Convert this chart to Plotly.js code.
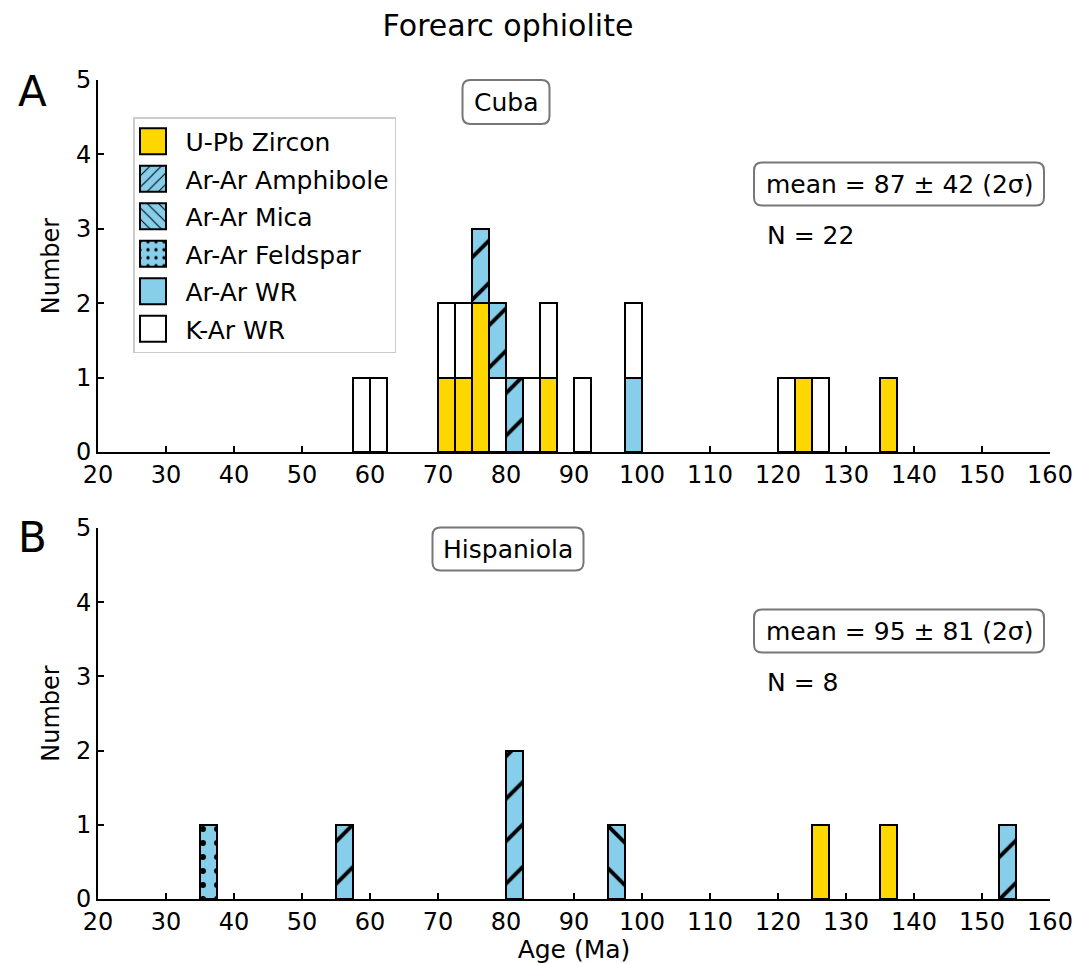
<!DOCTYPE html>
<html>
<head>
<meta charset="utf-8">
<script src="https://cdn.plot.ly/plotly-3.0.1.min.js"></script>
<style>html,body{margin:0;padding:0;background:#fff;}#chart{width:1088px;height:964px;}</style>
</head>
<body>
<div id="chart"></div>
<script>
// ---- data (bin left edges in Ma, counts per bin) ----
var binWidth = 2.5;
var xTicks = [20, 30, 40, 50, 60, 70, 80, 90, 100, 110, 120, 130, 140, 150, 160];
var yTicks = [0, 1, 2, 3, 4, 5];

// Panel A: Cuba
var cubaUPbEdges = [70, 72.5, 75, 85, 122.5, 135];
var cubaUPbCounts = [1, 1, 2, 1, 1, 1];
var cubaArWREdges = [97.5];
var cubaArWRCounts = [1];
var cubaKArEdges = [57.5, 60, 70, 72.5, 77.5, 82.5, 85, 90, 97.5, 120, 125];
var cubaKArCounts = [1, 1, 1, 1, 1, 1, 1, 1, 1, 1, 1];
var cubaAmphEdges = [75, 77.5, 80];
var cubaAmphCounts = [1, 1, 1];

// Panel B: Hispaniola
var hispUPbEdges = [125, 135];
var hispUPbCounts = [1, 1];
var hispAmphEdges = [55, 80, 152.5];
var hispAmphCounts = [1, 2, 1];
var hispMicaEdges = [95];
var hispMicaCounts = [1];
var hispFeldEdges = [35];
var hispFeldCounts = [1];

var cubaStats = {mean: 87, sd2: 42, n: 22};
var hispStats = {mean: 95, sd2: 81, n: 8};

// ---- styling ----
var FONT = 'DejaVu Sans, Liberation Sans, sans-serif';
var GOLD = '#FFD700', SKY = '#87CEEB';
var series = {
  'U-Pb Zircon':    {color: GOLD, pattern: null, rank: 1},
  'Ar-Ar Amphibole':{color: SKY, pattern: '/', rank: 2},
  'Ar-Ar Mica':     {color: SKY, pattern: '\\', rank: 3},
  'Ar-Ar Feldspar': {color: SKY, pattern: '.', rank: 4},
  'Ar-Ar WR':       {color: SKY, pattern: null, rank: 5},
  'K-Ar WR':        {color: '#FFFFFF', pattern: null, rank: 6}
};

function centers(edges) { return edges.map(function (e) { return e + binWidth / 2; }); }

function barTrace(name, edges, counts, xa, ya, showlegend) {
  var s = series[name];
  var marker = {color: s.color, line: {color: 'black', width: 2}};
  if (s.pattern) {
    var isDot = s.pattern === '.';
    marker.pattern = {
      shape: s.pattern, fgcolor: 'black', bgcolor: s.color, fillmode: 'replace',
      size: isDot ? 14 : 30, solidity: isDot ? 0.14 : 0.13
    };
  }
  return {
    type: 'bar', name: name, x: centers(edges), y: counts, width: binWidth,
    xaxis: xa, yaxis: ya, marker: marker, showlegend: showlegend,
    legendgroup: name, legendrank: s.rank, hoverinfo: 'x+y+name'
  };
}

// stacking order follows trace order
var data = [
  barTrace('U-Pb Zircon', cubaUPbEdges, cubaUPbCounts, 'x', 'y', true),
  barTrace('Ar-Ar WR', cubaArWREdges, cubaArWRCounts, 'x', 'y', true),
  barTrace('K-Ar WR', cubaKArEdges, cubaKArCounts, 'x', 'y', true),
  barTrace('Ar-Ar Amphibole', cubaAmphEdges, cubaAmphCounts, 'x', 'y', true),
  barTrace('U-Pb Zircon', hispUPbEdges, hispUPbCounts, 'x2', 'y2', false),
  barTrace('Ar-Ar Amphibole', hispAmphEdges, hispAmphCounts, 'x2', 'y2', false),
  barTrace('Ar-Ar Mica', hispMicaEdges, hispMicaCounts, 'x2', 'y2', true),
  barTrace('Ar-Ar Feldspar', hispFeldEdges, hispFeldCounts, 'x2', 'y2', true)
];

// layout geometry (pixels)
var ML = 98, MR = 38, MT = 80, MB = 65, W = 1088, H = 964;
var PW = W - ML - MR, PH = H - MT - MB;
function px(x) { return (x - ML) / PW; }
function py(y) { return (H - MB - y) / PH; }

function axisBase() {
  return {
    showline: true, linecolor: 'black', linewidth: 2, mirror: false,
    ticks: 'inside', ticklen: 6, tickwidth: 1.5, tickcolor: 'black',
    showgrid: false, zeroline: false, tickfont: {family: FONT, size: 24, color: 'black'},
    fixedrange: true
  };
}
var xa1 = Object.assign(axisBase(), {domain: [0, 1], range: [20, 160], tickvals: xTicks, anchor: 'y'});
var xa2 = Object.assign(axisBase(), {domain: [0, 1], range: [20, 160], tickvals: xTicks, anchor: 'y2',
  title: {text: 'Age (Ma)', font: {family: FONT, size: 25, color: 'black'}, standoff: 13}});
var ya1 = Object.assign(axisBase(), {domain: [py(452), 1], range: [0, 5], tickvals: yTicks, anchor: 'x',
  title: {text: 'Number', font: {family: FONT, size: 24, color: 'black'}, standoff: 10}});
var ya2 = Object.assign(axisBase(), {domain: [0, py(528)], range: [0, 5], tickvals: yTicks, anchor: 'x2',
  title: {text: 'Number', font: {family: FONT, size: 24, color: 'black'}, standoff: 10}});

function roundBox(cx, cy, w, h, r) {
  var x0 = -w / 2, x1 = w / 2, y0 = -h / 2, y1 = h / 2;
  var path = 'M' + (x0 + r) + ',' + y0 + ' L' + (x1 - r) + ',' + y0 + ' Q' + x1 + ',' + y0 + ' ' + x1 + ',' + (y0 + r) +
    ' L' + x1 + ',' + (y1 - r) + ' Q' + x1 + ',' + y1 + ' ' + (x1 - r) + ',' + y1 +
    ' L' + (x0 + r) + ',' + y1 + ' Q' + x0 + ',' + y1 + ' ' + x0 + ',' + (y1 - r) +
    ' L' + x0 + ',' + (y0 + r) + ' Q' + x0 + ',' + y0 + ' ' + (x0 + r) + ',' + y0 + ' Z';
  return {type: 'path', xref: 'paper', yref: 'paper', xsizemode: 'pixel', ysizemode: 'pixel',
    xanchor: px(cx), yanchor: py(cy), path: path, line: {color: '#777777', width: 2},
    fillcolor: 'white', layer: 'below'};
}

function txt(text, x, y, size, xanchor) {
  return {text: text, xref: 'paper', yref: 'paper', x: px(x), y: py(y), showarrow: false,
    xanchor: xanchor || 'center', yanchor: 'middle', font: {family: FONT, size: size, color: 'black'}};
}

var meanTxt = function (s) { return 'mean = ' + s.mean + ' \u00B1 ' + s.sd2 + ' (2\u03C3)'; };

var layout = {
  width: W, height: H, paper_bgcolor: 'white', plot_bgcolor: 'rgba(0,0,0,0)',
  margin: {l: ML, r: MR, t: MT, b: MB, pad: 0},
  barmode: 'stack', bargap: 0,
  font: {family: FONT, color: 'black'},
  title: {text: 'Forearc ophiolite', x: 508 / W, xanchor: 'center', xref: 'container', y: 1 - 25 / H, yanchor: 'middle', yref: 'container',
    font: {family: FONT, size: 30, color: 'black'}},
  xaxis: xa1, xaxis2: xa2, yaxis: ya1, yaxis2: ya2,
  showlegend: true,
  legend: {x: px(133), y: py(117), xanchor: 'left', yanchor: 'top', bgcolor: 'white', bordercolor: '#cccccc', borderwidth: 1.5,
    font: {family: FONT, size: 25, color: 'black'}, itemwidth: 41, tracegroupgap: 2, traceorder: 'grouped', itemclick: false, itemdoubleclick: false},
  shapes: [
    roundBox(506, 102, 87, 44, 8),
    roundBox(899, 184, 290, 43, 8),
    roundBox(508, 549, 151, 43, 8),
    roundBox(899, 631, 290, 43, 8)
  ],
  annotations: [
    txt('A', 32, 92, 42),
    txt('B', 32, 537, 42),
    txt('Cuba', 506, 102, 25),
    txt(meanTxt(cubaStats), 899, 184, 25),
    txt('N = ' + cubaStats.n, 765, 235, 25, 'left'),
    txt('Hispaniola', 508, 549, 25),
    txt(meanTxt(hispStats), 899, 631, 25),
    txt('N = ' + hispStats.n, 765, 682, 25, 'left')
  ]
};

var gd = document.getElementById('chart');
function bigSwatches() {
  var paths = gd.querySelectorAll('.legend .legendpoints path');
  paths.forEach(function (p) { p.setAttribute('d', 'M6,13H-20V-13H6Z'); });
}
Plotly.newPlot(gd, data, layout, {displayModeBar: false, staticPlot: false}).then(function () {
  bigSwatches();
  gd.on('plotly_afterplot', bigSwatches);
});
</script>
</body>
</html>
